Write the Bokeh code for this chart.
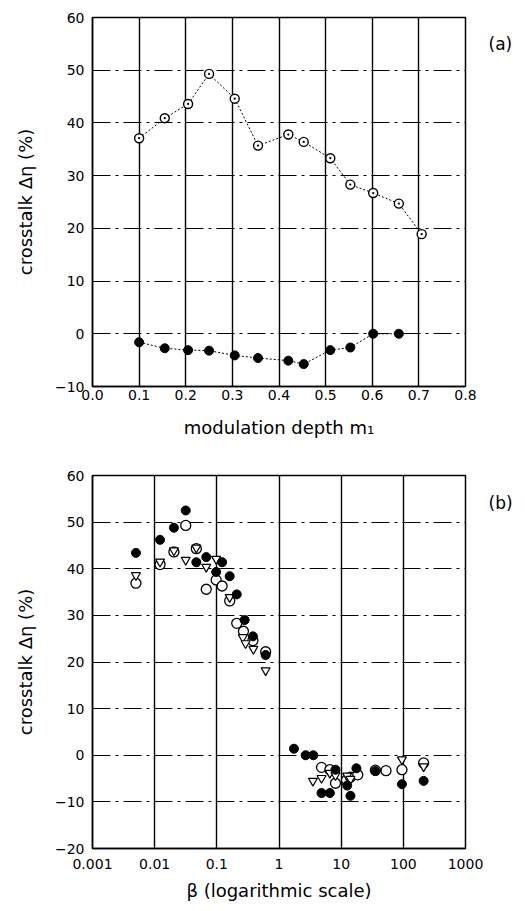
from bokeh.plotting import figure
from bokeh.layouts import column
from bokeh.models import FixedTicker, Range1d, LinearAxis
from bokeh.embed import file_html
from bokeh.resources import INLINE

# ---------------- data: panel (a) ----------------
m1_open = [0.10, 0.155, 0.205, 0.25, 0.305, 0.355, 0.42, 0.453, 0.51, 0.553, 0.602, 0.657, 0.706]
eta_open = [37.1, 40.9, 43.6, 49.3, 44.6, 35.7, 37.8, 36.4, 33.3, 28.3, 26.7, 24.7, 18.9]
m1_filled = [0.10, 0.155, 0.205, 0.25, 0.305, 0.355, 0.42, 0.453, 0.51, 0.553, 0.602, 0.657]
eta_filled = [-1.6, -2.75, -3.1, -3.2, -4.1, -4.6, -5.1, -5.75, -3.1, -2.6, 0.0, 0.0]

x_ticks_a = [0.0, 0.1, 0.2, 0.3, 0.4, 0.5, 0.6, 0.7, 0.8]
y_ticks_a = [-10, 0, 10, 20, 30, 40, 50, 60]
y_ticks_b = [-20, -10, 0, 10, 20, 30, 40, 50, 60]

# ---------------- data: panel (b) ----------------
beta_filled = [0.005, 0.0122, 0.0204, 0.0316, 0.0468, 0.0676, 0.0975, 0.1216, 0.161, 0.209,
               0.28, 0.38, 0.61, 1.74, 2.68, 3.56, 4.83, 6.58, 8.1, 12.5, 14.1, 17.6, 35.5, 95, 212]
eta_b_filled = [43.4, 46.2, 48.8, 52.5, 41.4, 42.5, 39.3, 41.4, 38.4, 34.5,
                29.0, 25.5, 21.5, 1.4, 0.0, 0.0, -8.1, -8.1, -3.1, -6.5, -8.7, -2.8, -3.4, -6.2, -5.5]

beta_open = [0.005, 0.0122, 0.0204, 0.0316, 0.0468, 0.0676, 0.0975, 0.1216, 0.161, 0.209,
             0.268, 0.38, 0.61, 4.83, 6.58, 8.1, 12.2, 14.1, 18.5, 35.5, 52.6, 95, 212]
eta_b_open = [36.9, 40.9, 43.6, 49.3, 44.3, 35.6, 37.6, 36.3, 33.1, 28.3,
              26.6, 24.6, 22.2, -2.6, -3.1, -6.0, -5.3, -4.7, -4.2, -3.2, -3.3, -3.1, -1.65]

beta_tri = [0.005, 0.0122, 0.0204, 0.0316, 0.0468, 0.0676, 0.0975, 0.161, 0.262, 0.29,
            0.387, 0.61, 3.51, 4.83, 6.58, 8.1, 12.5, 14.1, 95, 212]
eta_b_tri = [38.6, 41.5, 43.9, 41.9, 44.5, 40.4, 42.1, 33.9, 25.3, 24.0,
             22.8, 18.2, -5.5, -4.9, -3.8, -4.3, -4.4, -5.1, -0.9, -2.4]

x_ticks_b = [0.001, 0.01, 0.1, 1, 10, 100, 1000]
x_labels_b = ["0.001", "0.01", "0.1", "1", "10", "100", "1000"]

panel_a_label = "(a)"
panel_b_label = "(b)"

FONT = "DejaVu Sans"


def style(p):
    p.outline_line_color = "black"
    p.outline_line_width = 1.5
    p.background_fill_color = "white"
    p.border_fill_color = "white"
    for ax in (p.xaxis[0], p.yaxis[0]):
        ax.axis_line_color = "black"
        ax.axis_line_width = 1.5
        ax.major_tick_in = 0
        ax.major_tick_out = 0
        ax.minor_tick_line_color = None
        ax.major_label_text_font = FONT
        ax.major_label_text_font_size = "14px"
        ax.major_label_text_color = "black"
        ax.axis_label_text_font = FONT
        ax.axis_label_text_font_size = "18px"
        ax.axis_label_text_font_style = "normal"
        ax.axis_label_text_color = "black"
    p.yaxis.major_label_standoff = 8
    p.xgrid.grid_line_color = "black"
    p.xgrid.grid_line_width = 1.4
    p.ygrid.grid_line_color = "black"
    p.ygrid.grid_line_width = 1.2
    p.ygrid.grid_line_dash = "18 5 3 5"


def panel_tag(p, yval, text):
    ax = LinearAxis(ticker=FixedTicker(ticks=[yval]),
                    major_label_overrides={yval: text})
    ax.axis_line_color = None
    ax.major_tick_line_color = None
    ax.minor_tick_line_color = None
    ax.major_tick_in = 0
    ax.major_tick_out = 0
    ax.major_label_standoff = 23
    ax.major_label_text_font = FONT
    ax.major_label_text_font_size = "17px"
    ax.major_label_text_color = "black"
    p.add_layout(ax, "right")


# ---------------- panel (a) ----------------
p1 = figure(width=518, height=458, output_backend="svg", toolbar_location=None,
            x_range=Range1d(0, 0.8), y_range=Range1d(-10, 60),
            min_border_left=92, min_border_right=53, min_border_top=17, min_border_bottom=72)
style(p1)
p1.xaxis.ticker = FixedTicker(ticks=x_ticks_a)
p1.xaxis.major_label_overrides = {t: f"{t:.1f}" for t in x_ticks_a}
p1.xaxis.major_label_standoff = 3
p1.yaxis.ticker = FixedTicker(ticks=y_ticks_a)
p1.xaxis.axis_label = "modulation depth m\u2081"
p1.yaxis.axis_label = "crosstalk \u0394\u03b7 (%)"
p1.xaxis.axis_label_standoff = 14
p1.yaxis.axis_label_standoff = 16

p1.line(m1_open, eta_open, line_color="black", line_width=1, line_dash="2 2")
p1.line(m1_filled, eta_filled, line_color="black", line_width=1, line_dash="2 2")
p1.scatter(m1_open, eta_open, marker="circle_dot", size=9, fill_color="white",
           line_color="black", line_width=1.4)
p1.scatter(m1_filled, eta_filled, marker="circle", size=9, fill_color="black",
           line_color="black")
panel_tag(p1, 55, panel_a_label)

# ---------------- panel (b) ----------------
p2 = figure(width=518, height=445, output_backend="svg", toolbar_location=None,
            x_axis_type="log", x_range=Range1d(0.001, 1000), y_range=Range1d(-20, 60),
            min_border_left=90, min_border_right=53, min_border_top=17, min_border_bottom=55)
style(p2)
p2.xaxis.ticker = FixedTicker(ticks=x_ticks_b)
p2.xaxis.major_label_overrides = dict(zip(x_ticks_b, x_labels_b))
p2.xaxis.major_label_standoff = 10
p2.yaxis.ticker = FixedTicker(ticks=y_ticks_b)
p2.xaxis.axis_label = "\u03b2 (logarithmic scale)"
p2.yaxis.axis_label = "crosstalk \u0394\u03b7 (%)"
p2.xaxis.axis_label_standoff = 8
p2.yaxis.axis_label_standoff = 16

p2.scatter(beta_open, eta_b_open, marker="circle", size=10, fill_color="white",
           line_color="black", line_width=1.3)
p2.scatter(beta_tri, eta_b_tri, marker="inverted_triangle", size=9, fill_color="white",
           line_color="black", line_width=1.2)
p2.scatter(beta_filled, eta_b_filled, marker="circle", size=9, fill_color="black",
           line_color="black")
panel_tag(p2, 54, panel_b_label)

layout = column(p1, p2, spacing=0)
open("out.html", "w").write(file_html(layout, INLINE))
